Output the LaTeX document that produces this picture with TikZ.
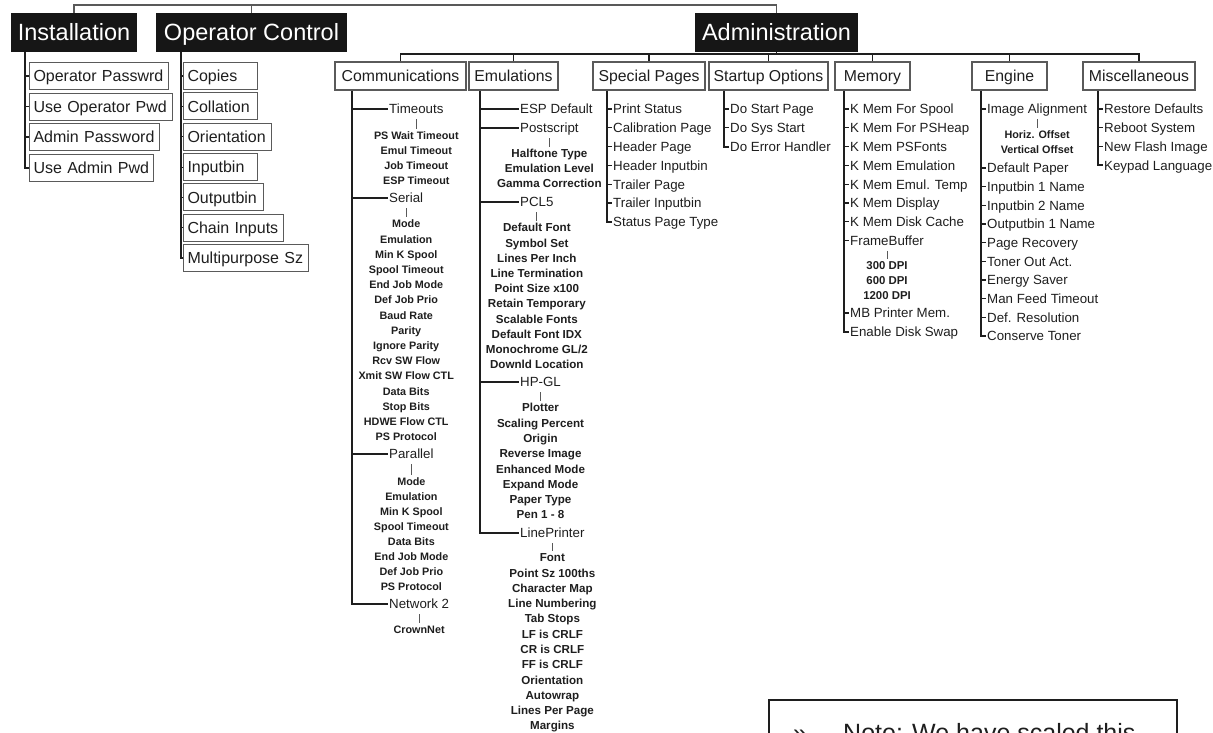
\documentclass[tikz,border=0pt]{standalone}
\usepackage{fontspec}
\setmainfont{Liberation Sans}
\usepackage{tikz}
\usetikzlibrary{calc}
\definecolor{ink}{RGB}{30,30,30}
\definecolor{headc}{RGB}{22,22,22}
\definecolor{framec}{RGB}{90,90,90}
\newcommand{\fsz}[1]{\fontsize{#1}{#1}\selectfont}

\begin{document}
\begin{tikzpicture}[x=1pt, y=-1pt, text=ink,
  head/.style={fill=headc, text=white, minimum height=39pt, inner sep=0pt,
    text height=19pt, text depth=2.2pt, font=\fsz{23.5}},
  leaf/.style={draw=framec, line width=1pt, anchor=west, minimum height=27pt,
    inner xsep=4pt, inner ysep=0pt, align=left, text height=13pt, text depth=1.5pt, font=\fsz{16}},
  group/.style={draw=framec, line width=1.1pt, minimum height=28pt, inner xsep=3pt,
    inner ysep=0pt, text height=12.8pt, text depth=1.5pt, font=\fsz{15.8}},
  item/.style={anchor=west, inner sep=1pt, text height=12pt, text depth=2.3pt, font=\fsz{13.3}},
  sub/.style={inner sep=1pt, text height=9pt, text depth=1.3pt, font=\bfseries\fsz{#1}},
  sub/.default=10.8,
  spine/.style={line width=2pt, draw=ink},
  arm/.style={line width=1.5pt, draw=ink},
  tick/.style={line width=1.1pt, draw=ink},
  bar/.style={line width=0.8pt, draw=black!65, shorten <=2pt, shorten >=1pt},
  topline/.style={line width=1.3pt, draw=black!65},
  bus/.style={line width=1.6pt, draw=ink}]

\useasboundingbox (0,0) rectangle (1213,732);
\clip (0,0) rectangle (1213,732);

%% ── top level menus ─────────────────────────────────────────────
\node[head, minimum width=126pt] (inst)  at (74,32.5)    {Installation};
\node[head, minimum width=191pt] (opctl) at (251.5,32.5) {Operator Control};
\node[head, minimum width=163pt] (admin) at (776.5,32.5) {Administration};

\coordinate (root) at (425,5);
\draw[topline] (inst.north) |- (root) -| (admin.north);
\draw[topline] (opctl.north) -- (opctl.north |- root);

%% ── installation ────────────────────────────────────────────────
\coordinate (instX) at (25,0);
\foreach \lab/\w [count=\i] in {Operator Passwrd/131, Use Operator Pwd/135, Admin Password/122, Use Admin Pwd/116}{
  \pgfmathsetmacro\yy{76+30.5*(\i-1)}
  \node[leaf, text width=\w pt] (inst-\i) at (29,\yy) {\lab};
  \draw[tick] (instX |- inst-\i.west) -- (inst-\i.west);
}
\draw[spine] (inst.south -| instX) |- (inst-4.west);

%% ── operator control ────────────────────────────────────────────
\coordinate (opcX) at (181,0);
\foreach \lab/\w [count=\i] in {Copies/66, Collation/66, Orientation/80, Inputbin/66, Outputbin/72, Chain Inputs/92, Multipurpose Sz/117}{
  \pgfmathsetmacro\yy{76+30.35*(\i-1)}
  \node[leaf, text width=\w pt] (opc-\i) at (183,\yy) {\lab};
  \draw[tick] (opcX |- opc-\i.west) -- (opc-\i.west);
}
\draw[spine] (opctl.south -| opcX) |- (opc-7.west);

%% ── administration groups + bus ─────────────────────────────────
\foreach \n/\x/\w/\lab in {comm/400.5/131/Communications, emul/513.5/89/Emulations,
    spec/649/112/Special Pages, start/768.5/119/Startup Options, mem/872.5/75/Memory,
    eng/1009.5/75/Engine, misc/1139/112/Miscellaneous}
  \node[group, minimum width=\w pt] (\n) at (\x,76) {\lab};

\coordinate (busY) at (0,54);
\draw[bus] (admin.south) -- (admin.south |- busY);
\draw[bus] (comm.north) -- (comm.north |- busY) -- (misc.north |- busY) -- (misc.north);
\foreach \n in {emul,spec,start,mem,eng}
  \draw[bus] (\n.north) -- (\n.north |- busY);

%% ── communications ──────────────────────────────────────────────
\coordinate (commX) at (352,0);
\node[item] (tmo) at (388,109) {Timeouts};
\node[item] (ser) at (388,198) {Serial};
\node[item] (par) at (388,454) {Parallel};
\node[item] (net) at (388,604) {Network 2};
\draw[spine] (comm.south -| commX) |- (net.west);
\foreach \n in {tmo,ser,par}
  \draw[arm] (commX |- \n.west) -- (\n.west);

\foreach \lab [count=\i] in {PS Wait Timeout, Emul Timeout, Job Timeout, ESP Timeout}{
  \pgfmathsetmacro\yy{136+15*(\i-1)}
  \node[sub] (tmo-\i) at (tmo.center |- 0,\yy) {\lab};
}
\foreach \lab [count=\i] in {Mode, Emulation, Min K Spool, Spool Timeout, End Job Mode, Def Job Prio,
    Baud Rate, Parity, Ignore Parity, Rcv SW Flow, Xmit SW Flow CTL, Data Bits, Stop Bits,
    HDWE Flow CTL, PS Protocol}{
  \pgfmathsetmacro\yy{224+15.2*(\i-1)}
  \node[sub] (ser-\i) at (ser.center |- 0,\yy) {\lab};
}
\foreach \lab [count=\i] in {Mode, Emulation, Min K Spool, Spool Timeout, Data Bits, End Job Mode,
    Def Job Prio, PS Protocol}{
  \pgfmathsetmacro\yy{482+15*(\i-1)}
  \node[sub] (par-\i) at (par.center |- 0,\yy) {\lab};
}
\node[sub] (net-1) at (net.center |- 0,630) {CrownNet};
\foreach \n in {tmo,ser,par,net}
  \draw[bar] (\n.south) -- (\n-1.north);

%% ── emulations ──────────────────────────────────────────────────
\coordinate (emulX) at (480,0);
\node[item] (esp)  at (519,109) {ESP Default};
\node[item] (ps)   at (519,128) {Postscript};
\node[item] (pcl)  at (519,202) {PCL5};
\node[item] (hpgl) at (519,382) {HP-GL};
\node[item] (lpr)  at (519,533) {LinePrinter};
\draw[spine] (emul.south -| emulX) |- (lpr.west);
\foreach \n in {esp,ps,pcl,hpgl}
  \draw[arm] (emulX |- \n.west) -- (\n.west);

\foreach \lab [count=\i] in {Halftone Type, Emulation Level, Gamma Correction}{
  \pgfmathsetmacro\yy{154+15*(\i-1)}
  \node[sub=11.6] (ps-\i) at (ps.center |- 0,\yy) {\lab};
}
\foreach \lab [count=\i] in {Default Font, Symbol Set, Lines Per Inch, Line Termination, Point Size x100,
    Retain Temporary, Scalable Fonts, Default Font IDX, {Monochrome GL/2}, Downld Location}{
  \pgfmathsetmacro\yy{228+15.2*(\i-1)}
  \node[sub=11.6] (pcl-\i) at (pcl.center |- 0,\yy) {\lab};
}
\foreach \lab [count=\i] in {Plotter, Scaling Percent, Origin, Reverse Image, Enhanced Mode,
    Expand Mode, Paper Type, Pen 1 - 8}{
  \pgfmathsetmacro\yy{408+15.3*(\i-1)}
  \node[sub=11.6] (hpgl-\i) at (hpgl.center |- 0,\yy) {\lab};
}
\foreach \lab [count=\i] in {Font, Point Sz 100ths, Character Map, Line Numbering, Tab Stops,
    LF is CRLF, CR is CRLF, FF is CRLF, Orientation, Autowrap, Lines Per Page, Margins}{
  \pgfmathsetmacro\yy{558+15.27*(\i-1)}
  \node[sub=11.6] (lpr-\i) at (lpr.center |- 0,\yy) {\lab};
}
\foreach \n in {ps,pcl,hpgl,lpr}
  \draw[bar] (\n.south) -- (\n-1.north);

%% ── special pages ───────────────────────────────────────────────
\coordinate (specX) at (607,0);
\foreach \lab [count=\i] in {Print Status, Calibration Page, Header Page, Header Inputbin,
    Trailer Page, Trailer Inputbin, Status Page Type}{
  \pgfmathsetmacro\yy{109+18.8*(\i-1)}
  \node[item] (spec-\i) at (612,\yy) {\lab};
  \draw[tick] (specX |- spec-\i.west) -- (spec-\i.west);
}
\draw[spine] (spec.south -| specX) |- (spec-7.west);

%% ── startup options ─────────────────────────────────────────────
\coordinate (startX) at (724,0);
\foreach \lab [count=\i] in {Do Start Page, Do Sys Start, Do Error Handler}{
  \pgfmathsetmacro\yy{109+18.8*(\i-1)}
  \node[item] (start-\i) at (729,\yy) {\lab};
  \draw[tick] (startX |- start-\i.west) -- (start-\i.west);
}
\draw[spine] (start.south -| startX) |- (start-3.west);

%% ── memory ──────────────────────────────────────────────────────
\coordinate (memX) at (844,0);
\foreach \lab [count=\i] in {K Mem For Spool, K Mem For PSHeap, K Mem PSFonts, K Mem Emulation,
    K Mem Emul. Temp, K Mem Display, K Mem Disk Cache, FrameBuffer}{
  \pgfmathsetmacro\yy{109+18.8*(\i-1)}
  \node[item] (mem-\i) at (849,\yy) {\lab};
}
\node[item] (mem-9)  at (849,313) {MB Printer Mem.};
\node[item] (mem-10) at (849,332) {Enable Disk Swap};
\foreach \i in {1,...,9}
  \draw[tick] (memX |- mem-\i.west) -- (mem-\i.west);
\draw[spine] (mem.south -| memX) |- (mem-10.west);

% frame buffer resolutions
\foreach \lab [count=\i] in {300 DPI, 600 DPI, 1200 DPI}{
  \pgfmathsetmacro\yy{266+15*(\i-1)}
  \node[sub=11.4] (dpi-\i) at (mem-8.center |- 0,\yy) {\lab};
}
\draw[bar] (mem-8.south) -- (dpi-1.north);

%% ── engine ──────────────────────────────────────────────────────
\coordinate (engX) at (981,0);
\node[item] (eng-1) at (986,109) {Image Alignment};
\foreach \lab [count=\i from 2] in {Default Paper, Inputbin 1 Name, Inputbin 2 Name, Outputbin 1 Name,
    Page Recovery, Toner Out Act., Energy Saver, Man Feed Timeout, Def. Resolution, Conserve Toner}{
  \pgfmathsetmacro\yy{168+18.67*(\i-2)}
  \node[item] (eng-\i) at (986,\yy) {\lab};
}
\foreach \i in {1,...,10}
  \draw[tick] (engX |- eng-\i.west) -- (eng-\i.west);
\draw[spine] (eng.south -| engX) |- (eng-11.west);

\node[sub] (algn-1) at (eng-1.center |- 0,135) {Horiz. Offset};
\node[sub] (algn-2) at (eng-1.center |- 0,150) {Vertical Offset};
\draw[bar] (eng-1.south) -- (algn-1.north);

%% ── miscellaneous ───────────────────────────────────────────────
\coordinate (miscX) at (1098,0);
\foreach \lab [count=\i] in {Restore Defaults, Reboot System, New Flash Image, Keypad Language}{
  \pgfmathsetmacro\yy{109+18.8*(\i-1)}
  \node[item] (misc-\i) at (1103,\yy) {\lab};
  \draw[tick] (miscX |- misc-\i.west) -- (misc-\i.west);
}
\draw[spine] (misc.south -| miscX) |- (misc-4.west);

%% ── note (cut by the page edge) ─────────────────────────────────
\draw[line width=2.6pt, draw=ink] (769,700) rectangle (1177,800);
\node[anchor=base west, inner sep=0pt, font=\fsz{25}] (note-mark) at (793,741) {»};
\node[anchor=base west, inner sep=0pt, font=\fsz{25}] (note) at (843,741) {Note: We have scaled this};

\end{tikzpicture}
\end{document}
